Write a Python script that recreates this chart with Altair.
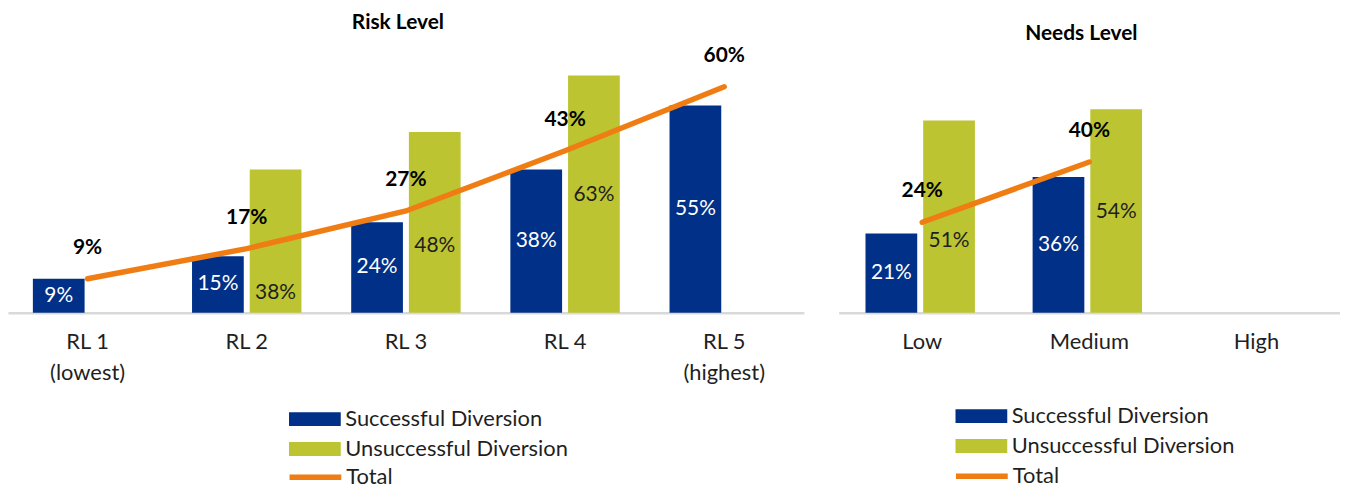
import altair as alt
import pandas as pd

# ---------------- data ----------------
S_NAME = "Successful Diversion"
U_NAME = "Unsuccessful Diversion"
T_NAME = "Total"

rl_categories = ["RL 1|(lowest)", "RL 2", "RL 3", "RL 4", "RL 5|(highest)"]
rl_successful = [9, 15, 24, 38, 55]
rl_unsuccessful = [None, 38, 48, 63, None]
rl_unsuccessful_label_at = [None, 5.3, 17.7, 31.2, None]
rl_total = [9, 17, 27, 43, 60]

nl_categories = ["Low", "Medium", "High"]
nl_successful = [21, 36, None]
nl_unsuccessful = [51, 54, None]
nl_unsuccessful_label_at = [19, 26.7, None]
nl_total = [24, 40, None]

BLUE = "#003087"
GREEN = "#BCC431"
ORANGE = "#F07D13"
FONT = "Lato"
TEXT_DARK = "#1f1f1f"


def panel(cats, succ, unsucc, unsucc_at, total, title, width,
          title_offset, pad_in, pad_out, off_pad, leg_x, leg_y, leg_y_total):
    bar_rows = []
    for c, s, u, ua in zip(cats, succ, unsucc, unsucc_at):
        if s is not None:
            bar_rows.append(dict(cat=c, series=S_NAME, value=s, pos=s / 2,
                                 label=f"{s}%", tcolor="white"))
        if u is not None:
            bar_rows.append(dict(cat=c, series=U_NAME, value=u, pos=ua,
                                 label=f"{u}%", tcolor=TEXT_DARK))
    bars_df = pd.DataFrame(bar_rows)
    line_df = pd.DataFrame([dict(cat=c, value=t, label=f"{t}%", line=T_NAME)
                            for c, t in zip(cats, total) if t is not None])

    x = alt.X("cat:N",
              scale=alt.Scale(domain=cats, paddingInner=pad_in, paddingOuter=pad_out),
              axis=alt.Axis(title=None, labelAngle=0, ticks=False,
                            labelExpr="split(datum.label, '|')",
                            labelFont=FONT, labelFontSize=22, labelColor=TEXT_DARK,
                            labelLineHeight=31, labelPadding=19,
                            domainColor="#D9D9D9", domainWidth=2.5, grid=False))
    y_scale = alt.Scale(domain=[0, 70], nice=False)
    xoff = alt.XOffset("series:N", scale=alt.Scale(domain=[S_NAME, U_NAME],
                                                   paddingInner=off_pad, paddingOuter=0))

    bars = alt.Chart(bars_df).mark_bar().encode(
        x=x,
        xOffset=xoff,
        y=alt.Y("value:Q", scale=y_scale, axis=None),
        color=alt.Color("series:N",
                        scale=alt.Scale(domain=[S_NAME, U_NAME], range=[BLUE, GREEN]),
                        legend=alt.Legend(title=None, orient="none", legendX=leg_x, legendY=leg_y,
                                          symbolType="M-3.06,-0.82H3.06V0.82H-3.06Z",
                                          symbolSize=289, symbolStrokeWidth=0,
                                          labelOffset=19.5, labelFont=FONT, labelFontSize=22,
                                          labelLimit=400,
                                          labelColor=TEXT_DARK, rowPadding=8, padding=0)),
    )
    bar_text = alt.Chart(bars_df).mark_text(font=FONT, fontSize=21).encode(
        x=x,
        xOffset=xoff,
        y=alt.Y("pos:Q", scale=y_scale, axis=None),
        text="label:N",
        color=alt.Color("tcolor:N", scale=None),
    )
    line = alt.Chart(line_df).mark_line(strokeWidth=5.5, strokeCap="round").encode(
        x=x,
        y=alt.Y("value:Q", scale=y_scale, axis=None),
        stroke=alt.Stroke("line:N", scale=alt.Scale(domain=[T_NAME], range=[ORANGE]),
                          legend=alt.Legend(title=None, orient="none", legendX=leg_x,
                                            legendY=leg_y_total,
                                            symbolType="M-3.06,0H3.06", symbolSize=289,
                                            symbolStrokeWidth=5.5,
                                            labelOffset=19.5, labelFont=FONT, labelFontSize=22,
                                            labelLimit=400,
                                            labelColor=TEXT_DARK, padding=0)),
    )
    line_text = alt.Chart(line_df).mark_text(font=FONT, fontSize=21, fontWeight="bold",
                                             dy=-31, color="#000000").encode(
        x=x,
        y=alt.Y("value:Q", scale=y_scale, axis=None),
        text="label:N",
    )
    return alt.layer(bars, bar_text, line, line_text).properties(
        width=width, height=265,
        title=alt.TitleParams(title, font=FONT, fontSize=21, fontWeight="bold",
                              color="#000000", offset=title_offset, dx=-8),
    )


left = panel(rl_categories, rl_successful, rl_unsuccessful, rl_unsuccessful_label_at,
             rl_total, "Risk Level", 800, 12, 0.3125, 0.15625, 0.1034,
             297.5, 361, 419)
right = panel(nl_categories, nl_successful, nl_unsuccessful, nl_unsuccessful_label_at,
              nl_total, "Needs Level", 504, 5, 0.3214, 0.1607, 0.131,
              132.5, 358, 418)

chart = alt.hconcat(left, right, spacing=35).resolve_scale(
    x="independent", y="independent", color="independent", stroke="independent"
).resolve_legend(color="independent", stroke="independent").properties(
    padding={"left": 0, "top": 2, "right": 0, "bottom": 0},
    background="white",
).configure_view(stroke=None)

chart.save("out.html", embed_options={"renderer": "svg", "actions": False})
